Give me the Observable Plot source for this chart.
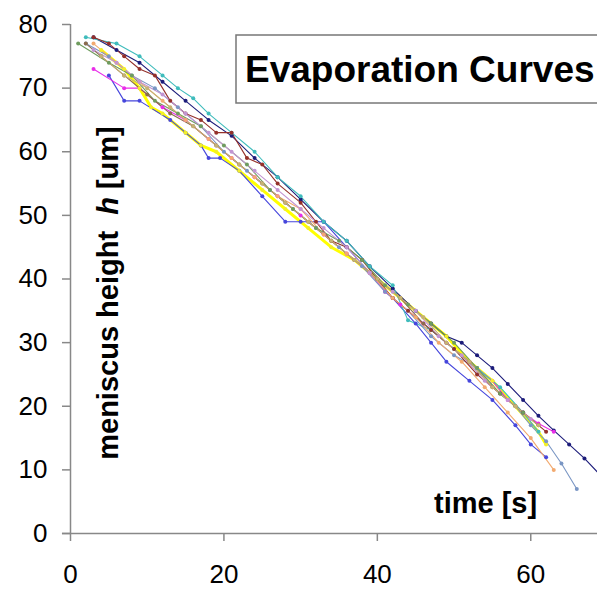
<!DOCTYPE html>
<html><head><meta charset="utf-8">
<script src="https://cdn.jsdelivr.net/npm/d3@7"></script>
<script src="https://cdn.jsdelivr.net/npm/@observablehq/plot@0.6"></script>
<style>
body{margin:0;background:#fff;overflow:hidden;width:597px;height:589px;}
svg{display:block;}
</style>
</head><body>
<script>
const xTicks = [0, 20, 40, 60];
const yTicks = [0, 10, 20, 30, 40, 50, 60, 70, 80];
const titleText = "Evaporation Curves";
const xLabel = "time [s]";

const seriesNames  = ["navy","blue","magenta","yellow","cyan","steel","maroon","sandy","olive","lilac","brown","khaki"];
const seriesColors = ["#1c1c7a","#4646dc","#e92ee9","#f2ef2a","#3fbcbc","#7a96c4","#94302a","#f2aa70","#6f9c5e","#c294d2","#8c6c4c","#c6b274"];

const navyT = [3, 6, 9, 12, 15, 18, 21, 24, 27, 30, 33, 36, 39, 42, 45, 47, 49, 51, 53, 55, 57, 59, 61, 63, 65, 67, 70];
const navyH = [78, 76, 74, 71, 68, 65, 62.5, 59, 56, 52.5, 49, 46, 42, 38.5, 35, 33, 31, 30, 28, 26, 23.5, 21, 18.5, 16.2, 14, 11.8, 8];
const blueT = [5, 7, 9, 13, 15, 17, 18, 19.5, 22, 25, 28, 30, 33, 36, 39, 42, 45, 47, 49, 52, 55, 58, 60, 62];
const blueH = [72, 68, 68, 65, 63, 61, 59, 59, 57, 53, 49, 49, 49, 45, 41, 37, 33, 30, 27, 24, 21, 17, 14, 12];
const magentaT = [3, 7, 9, 12, 15, 18, 21, 24, 27, 30, 33, 36, 39, 41, 43, 46, 49, 52, 55, 57, 59, 61, 63];
const magentaH = [73, 70, 70, 67, 65, 62, 59, 56, 53, 50, 47, 44, 41, 38, 36, 33, 30, 27, 24, 21, 19, 17.3, 16];
const yellowT = [4, 7, 9, 10.5, 12, 15, 17, 19, 22, 25, 28, 31, 34, 37, 40, 43, 46, 49, 52, 55, 58, 61, 62];
const yellowH = [76, 73, 70, 67, 66, 63, 61, 60, 57, 54, 51, 48, 45, 43, 40, 37, 34, 31, 27, 24, 20, 16, 14];
const cyanT = [2, 6, 9, 12, 14, 16, 18, 21, 24, 27, 30, 33, 36, 39, 42, 44, 47, 50, 53, 56, 59, 61];
const cyanH = [78, 77, 75, 72, 70, 68.4, 66, 63, 60, 56, 53, 49, 46, 42, 39, 33.5, 32, 29, 26, 23, 19, 16];
const steelT = [2, 5, 8, 11, 14, 17, 20, 23, 26, 29, 32, 35, 38, 41, 44, 47, 50, 53, 56, 58, 60, 62, 64, 66];
const steelH = [77, 75, 72, 70, 67, 64, 60, 57, 54, 51, 48, 45, 42, 38, 35, 31, 28, 26, 22, 20, 17, 14.5, 11, 7];
const maroonT = [3, 5, 7, 9, 11, 13, 15, 17, 19, 21, 23, 25, 27, 30, 32, 34, 36, 38, 40, 42, 44, 47, 50, 53, 56, 59, 62];
const maroonH = [78, 77, 75, 73, 72, 68, 66, 65, 63, 63, 59, 58, 55, 52, 49, 46, 45, 43, 40, 37, 35, 32, 29, 25, 22, 19, 16];
const sandyT = [3, 6, 9, 12, 15, 18, 21, 24, 27, 30, 33, 36, 39, 42, 45, 48, 51, 54, 57, 60, 63];
const sandyH = [77, 74, 71, 68, 65, 62, 59, 56, 53, 51, 47, 44, 41, 37, 34, 30, 27, 23, 19, 15, 10];
const oliveT = [1, 5, 8, 11, 14, 17, 20, 23, 26, 29, 32, 35, 38, 41, 44, 47, 50, 53, 56, 59];
const oliveH = [77, 74, 72, 68, 66, 64, 61, 58, 54, 51, 48, 46, 43, 39, 36, 33, 30, 26, 22, 19];
const lilacT = [3, 6, 9, 12, 15, 18, 21, 24, 27, 30, 33, 36, 39, 42, 45, 48, 51, 54, 57, 60];
const lilacH = [76, 74, 71, 69, 66, 63, 60, 57, 54, 51, 48, 45, 41, 38, 35, 31, 28, 24, 21, 18];
const brownT = [2, 4, 7, 10, 13, 16, 19, 22, 25, 28, 31, 34, 37, 40, 43, 46, 49, 52, 55, 58, 61];
const brownH = [77, 75, 72, 69, 66, 64, 61, 58, 55, 52, 49, 46, 43, 40, 37, 33, 30, 27, 23, 20, 17];
const khakiT = [4, 7, 10, 13, 16, 19, 22, 25, 28, 31, 34, 37, 40, 43, 46, 49, 52, 55, 58, 61];
const khakiH = [75, 72, 70, 67, 64, 61, 58, 55, 52, 49, 46, 43, 40, 37, 34, 30, 27, 23, 20, 17];

const seriesT = [navyT, blueT, magentaT, yellowT, cyanT, steelT, maroonT, sandyT, oliveT, lilacT, brownT, khakiT];
const seriesH = [navyH, blueH, magentaH, yellowH, cyanH, steelH, maroonH, sandyH, oliveH, lilacH, brownH, khakiH];

const rows = [];
seriesNames.forEach((s, i) => seriesT[i].forEach((t, j) => rows.push({s, t, h: seriesH[i][j]})));

const FONT = "'Liberation Sans', Arial, sans-serif";

const chart = Plot.plot({
  width: 597, height: 589,
  marginLeft: 70, marginRight: 0, marginTop: 24, marginBottom: 56,
  style: {fontFamily: FONT, background: "#fff", color: "#000"},
  x: {domain: [0, 68.7], label: null},
  y: {domain: [0, 80], label: null},
  color: {domain: seriesNames, range: seriesColors},
  marks: [
    Plot.line(rows.filter(d => d.s === "yellow"), {x: "t", y: "h", z: "s", stroke: "s", strokeWidth: 3, clip: true}),
    Plot.line(rows.filter(d => d.s !== "yellow"), {x: "t", y: "h", z: "s", stroke: "s", strokeWidth: 1.1, clip: true}),
    Plot.dot(rows, {x: "t", y: "h", fill: "s", r: 2, clip: true}),
    Plot.ruleY([0], {stroke: "#888", strokeWidth: 1.5, x1: -1.05, x2: 68.7}),
    Plot.ruleX([0], {stroke: "#888", strokeWidth: 1.5}),
    Plot.axisX({ticks: xTicks, tickSize: 8, tickFormat: () => "", stroke: "#888", strokeWidth: 1.5, label: null}),
    Plot.axisX({ticks: xTicks, tickSize: 0, tickPadding: 31, fontSize: 26, fill: "#000", label: null}),
    Plot.axisY({ticks: yTicks, tickSize: 8, tickFormat: () => "", stroke: "#888", strokeWidth: 1.5, label: null}),
    Plot.axisY({ticks: yTicks, tickSize: 0, tickPadding: 23, fontSize: 26, fill: "#000", label: null})
  ]
});
document.body.append(chart);

const svg = d3.select(chart);
// title box
svg.append("rect").attr("x", 236).attr("y", 35).attr("width", 420).attr("height", 68)
  .attr("fill", "#fff").attr("stroke", "#777").attr("stroke-width", 1.5);
svg.append("text").attr("x", 245).attr("y", 82).attr("text-anchor", "start")
  .style("font", `bold 37px ${FONT}`).attr("fill", "#000").text(titleText);
// x label
svg.append("text").attr("x", 434).attr("y", 513).attr("text-anchor", "start")
  .style("font", `bold 29px ${FONT}`).attr("fill", "#000").text(xLabel);
// y label
const yl = svg.append("text").attr("transform", "translate(118,293) rotate(-90)")
  .attr("text-anchor", "middle").style("font", `bold 29px ${FONT}`).style("white-space", "pre").attr("fill", "#000");
yl.append("tspan").text("meniscus height  ");
yl.append("tspan").style("font-style", "italic").text("h");
yl.append("tspan").text(" [um]");
</script>
</body></html>
